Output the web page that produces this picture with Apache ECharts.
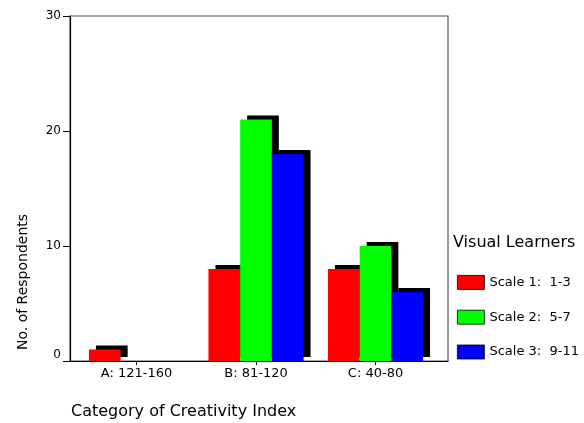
<!DOCTYPE html>
<html>
<head>
<meta charset="utf-8">
<script src="https://cdn.jsdelivr.net/npm/echarts@6/dist/echarts.min.js"></script>
<style>
  html, body { margin: 0; padding: 0; background: #fff; }
  #chart { width: 584px; height: 423px; }
</style>
</head>
<body>
<div id="chart"></div>
<script>
// Respondents per creativity-index category, split by visual-learner scale
const categories = ['A: 121-160', 'B: 81-120', 'C: 40-80'];
const scale1 = [1, 8, 8];
const scale2 = [0, 21, 10];
const scale3 = [0, 18, 6];
const seriesNames = ['Scale 1:  1-3', 'Scale 2:  5-7', 'Scale 3:  9-11'];
const seriesColors = ['#ff0000', '#00ff00', '#0000ff'];
const yTicks = [0, 10, 20, 30];

const FONT = 'DejaVu Sans';

// Zero counts get no drop shadow so nothing shows on the axis
function barData(values) {
  return values.map(v => v === 0
    ? { value: v, itemStyle: { shadowColor: 'transparent' } }
    : v);
}

const allValues = [scale1, scale2, scale3];
const series = allValues.map((vals, i) => ({
  name: seriesNames[i],
  type: 'bar',
  xAxisIndex: 0,
  yAxisIndex: 0,
  data: barData(vals),
  barWidth: 31.7,
  barGap: '0%',
  itemStyle: {
    color: seriesColors[i],
    borderWidth: 0,
    shadowColor: '#000',
    shadowBlur: 0,
    shadowOffsetX: 7,
    shadowOffsetY: -4
  },
  emphasis: { disabled: true },
  animation: false
}));

const chart = echarts.init(document.getElementById('chart'), null, { renderer: 'canvas' });

chart.setOption({
  backgroundColor: '#fff',
  animation: false,
  title: {
    text: 'Visual Learners',
    left: 448,
    top: 230,
    textStyle: { fontFamily: FONT, fontSize: 16, fontWeight: 'normal', color: '#000' }
  },
  legend: {
    orient: 'vertical',
    left: 452,
    top: 270,
    itemWidth: 27,
    itemHeight: 14,
    itemGap: 20,
    icon: 'rect',
    selectedMode: false,
    data: seriesNames,
    itemStyle: { shadowColor: 'transparent', shadowOffsetX: 0, shadowOffsetY: 0, borderColor: '#000', borderWidth: 0.8 },
    textStyle: { fontFamily: FONT, fontSize: 13, color: '#000', padding: [6, 0, 0, 0] }
  },
  grid: [
    // bar area
    { left: 76.75, right: 148.75, top: 16, bottom: 62 },
    // framed plot area
    { left: 70, right: 136, top: 16, bottom: 62, show: true, borderColor: '#555', borderWidth: 1.2, backgroundColor: 'transparent' }
  ],
  xAxis: [
    {
      type: 'category',
      gridIndex: 0,
      data: categories,
      axisLine: { show: false },
      axisTick: { show: true, alignWithLabel: true, length: 4, lineStyle: { color: '#000' } },
      axisLabel: { margin: 6, fontFamily: FONT, fontSize: 13, color: '#000' },
      splitLine: { show: false }
    },
    {
      type: 'value',
      gridIndex: 1,
      min: 0,
      max: 1,
      axisLine: { show: true, onZero: false, lineStyle: { color: '#000', width: 1.2 } },
      axisTick: { show: false },
      axisLabel: { show: false },
      splitLine: { show: false }
    }
  ],
  yAxis: [
    {
      type: 'value',
      gridIndex: 0,
      min: yTicks[0],
      max: yTicks[yTicks.length - 1],
      interval: yTicks[1] - yTicks[0],
      show: false
    },
    {
      type: 'value',
      gridIndex: 1,
      min: yTicks[0],
      max: yTicks[yTicks.length - 1],
      interval: yTicks[1] - yTicks[0],
      axisLine: { show: true, lineStyle: { color: '#000', width: 1.2 } },
      axisTick: { show: true, length: 7, lineStyle: { color: '#000' } },
      axisLabel: {
        margin: 9,
        fontFamily: FONT,
        fontSize: 12,
        color: '#000',
        formatter: v => v === 0 ? '{z|0}' : String(v),
        rich: { z: { fontFamily: FONT, fontSize: 12, color: '#000', padding: [0, 0, 13, 0] } }
      },
      splitLine: { show: false }
    }
  ],
  graphic: [
    {
      type: 'text',
      left: 71,
      top: 404,
      style: { text: 'Category of Creativity Index', fontFamily: FONT, fontSize: 16, fill: '#000' }
    },
    {
      type: 'text',
      x: 23,
      y: 282,
      rotation: Math.PI / 2,
      style: { text: 'No. of Respondents', fontFamily: FONT, fontSize: 14, fill: '#000', align: 'center', verticalAlign: 'middle' }
    }
  ],
  series: series
});
</script>
</body>
</html>
